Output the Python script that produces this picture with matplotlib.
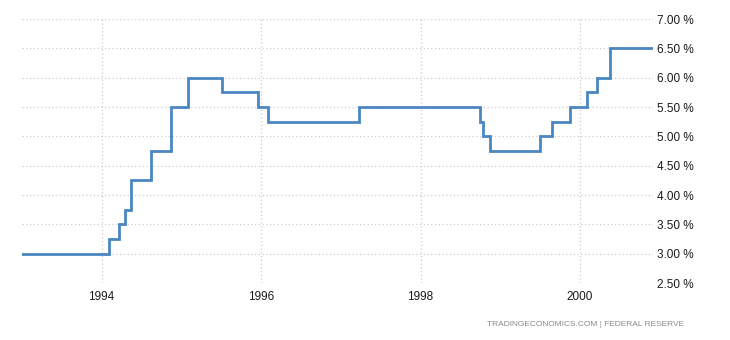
import numpy as np
import matplotlib
matplotlib.use('Agg')
import matplotlib.pyplot as plt
import pandas as pd

# federal funds target rate, date of each change
change_dates = ['1993-01-01', '1994-02-04', '1994-03-22', '1994-04-18', '1994-05-17',
                '1994-08-16', '1994-11-15', '1995-02-01', '1995-07-06', '1995-12-19',
                '1996-01-31', '1997-03-25', '1998-09-29', '1998-10-15', '1998-11-17',
                '1999-06-30', '1999-08-24', '1999-11-16', '2000-02-02', '2000-03-21',
                '2000-05-16', '2000-12-01']
rates = [3.00, 3.25, 3.50, 3.75, 4.25,
         4.75, 5.50, 6.00, 5.75, 5.50,
         5.25, 5.50, 5.25, 5.00, 4.75,
         5.00, 5.25, 5.50, 5.75, 6.00,
         6.50, 6.50]

y_ticks = [2.5, 3.0, 3.5, 4.0, 4.5, 5.0, 5.5, 6.0, 6.5, 7.0]
x_years = [1994, 1996, 1998, 2000]

plt.rcParams['font.family'] = ['Liberation Sans', 'DejaVu Sans']

dates = pd.to_datetime(change_dates)

fig = plt.figure(figsize=(7.3, 3.4), dpi=100)
ax = fig.add_axes([22/730, 57/340, 631/730, 264/340])

ax.step(dates, rates, where='post', color='#4a86c0', lw=2.0, solid_joinstyle='miter')

ax.set_ylim(2.5, 7.0)
ax.set_xlim(pd.Timestamp('1993-01-01'), pd.Timestamp('2000-12-01'))
ax.set_yticks(y_ticks)
ax.set_yticklabels(['%.2f %%' % v for v in y_ticks])
ax.set_xticks(pd.to_datetime(['%d-01-01' % y for y in x_years]))
ax.set_xticklabels([str(y) for y in x_years])

ax.yaxis.tick_right()
ax.tick_params(axis='both', length=0, labelsize=8.5, colors='#1a1a1a')
ax.tick_params(axis='y', pad=3)
ax.tick_params(axis='x', pad=6)
for s in ax.spines.values():
    s.set_visible(False)
ax.grid(True, color='#cccccc', linestyle=(0, (1, 2)), lw=0.9)
ax.set_axisbelow(True)

fig.text(684/730, 1 - 325/340, 'TRADINGECONOMICS.COM | FEDERAL RESERVE',
         ha='right', va='center', fontsize=6.0, color='#8a8a8a')

fig.savefig('out.png', dpi=100)
